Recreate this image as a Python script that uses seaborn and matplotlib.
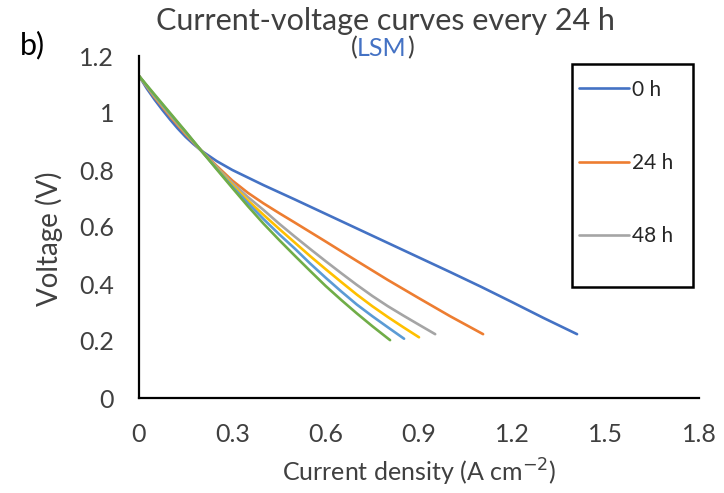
"""
Current-voltage curves every 24 h (LSM) - Excel style line chart
"""

import numpy as np
import pandas as pd
import matplotlib
matplotlib.use('Agg')
import matplotlib.pyplot as plt
from matplotlib.patches import Rectangle
from matplotlib.lines import Line2D
import seaborn as sns

# Data (current density in A cm-2, voltage in V)
hours = ['0 h', '24 h', '48 h', '72 h', '96 h', '120 h']

i_0h = [0, 0.025, 0.05, 0.075, 0.1, 0.125, 0.15, 0.175, 0.2, 0.25, 0.3, 0.4, 0.5,
        0.6, 0.7, 0.8, 0.9, 1.0, 1.1, 1.2, 1.3, 1.408]
v_0h = [1.13, 1.086, 1.047, 1.011, 0.977, 0.945, 0.916, 0.891, 0.868, 0.831, 0.80, 0.747, 0.697,
        0.646, 0.595, 0.544, 0.493, 0.442, 0.39, 0.336, 0.281, 0.224]

i_24h = [0, 0.05, 0.1, 0.15, 0.2, 0.25, 0.3, 0.35, 0.4, 0.45, 0.5, 0.6, 0.7, 0.8, 0.9, 1.0, 1.106]
v_24h = [1.13, 1.055, 0.988, 0.925, 0.868, 0.814, 0.763, 0.72, 0.683, 0.649, 0.616, 0.549,
         0.481, 0.414, 0.35, 0.287, 0.224]

i_48h = [0, 0.05, 0.1, 0.15, 0.2, 0.25, 0.3, 0.35, 0.4, 0.45, 0.5, 0.55, 0.6, 0.65, 0.7,
         0.75, 0.8, 0.85, 0.9, 0.952]
v_48h = [1.13, 1.058, 0.992, 0.929, 0.868, 0.81, 0.755, 0.705, 0.66, 0.612, 0.567, 0.523,
         0.48, 0.438, 0.397, 0.358, 0.322, 0.289, 0.257, 0.224]

i_72h = [0, 0.05, 0.1, 0.15, 0.2, 0.25, 0.3, 0.35, 0.4, 0.45, 0.5, 0.55, 0.6, 0.65, 0.7,
         0.75, 0.8, 0.85, 0.9]
v_72h = [1.13, 1.06, 0.995, 0.931, 0.868, 0.806, 0.748, 0.693, 0.643, 0.594, 0.546, 0.498,
         0.452, 0.407, 0.363, 0.322, 0.284, 0.248, 0.213]

i_96h = [0, 0.05, 0.1, 0.15, 0.2, 0.25, 0.3, 0.35, 0.4, 0.45, 0.5, 0.55, 0.6, 0.65, 0.7,
         0.75, 0.8, 0.852]
v_96h = [1.13, 1.062, 0.997, 0.933, 0.868, 0.804, 0.742, 0.684, 0.628, 0.575, 0.525, 0.472,
         0.422, 0.374, 0.328, 0.287, 0.248, 0.208]

i_120h = [0, 0.05, 0.1, 0.15, 0.2, 0.25, 0.3, 0.35, 0.4, 0.45, 0.5, 0.55, 0.6, 0.65, 0.7,
          0.75, 0.807]
v_120h = [1.13, 1.065, 1.0, 0.935, 0.868, 0.802, 0.737, 0.673, 0.612, 0.555, 0.50, 0.446,
          0.393, 0.344, 0.297, 0.252, 0.203]

colors = ['#4472C4', '#ED7D31', '#A5A5A5', '#FFC000', '#5B9BD5', '#70AD47']

x_ticks = [0, 0.3, 0.6, 0.9, 1.2, 1.5, 1.8]
y_ticks = [0, 0.2, 0.4, 0.6, 0.8, 1.0, 1.2]
y_tick_labels = ['0', '0.2', '0.4', '0.6', '0.8', '1', '1.2']

# long table for seaborn
curves = [(i_0h, v_0h), (i_24h, v_24h), (i_48h, v_48h),
          (i_72h, v_72h), (i_96h, v_96h), (i_120h, v_120h)]
frames = []
for label, (ii, vv) in zip(hours, curves):
    frames.append(pd.DataFrame({'current': ii, 'voltage': vv, 'time': label}))
df = pd.concat(frames, ignore_index=True)

sns.set_style('white')
plt.rcParams['font.family'] = ['Lato', 'DejaVu Sans']
text_gray = '#404040'

fig = plt.figure(figsize=(7.24, 4.93), dpi=100)
ax = fig.add_axes([139 / 724, 95 / 493, 560 / 724, 342 / 493])

sns.lineplot(data=df, x='current', y='voltage', hue='time', hue_order=hours,
             palette=colors, linewidth=1.9, sort=False, estimator=None,
             legend=False, ax=ax)

ax.set_xlim(0, 1.8)
ax.set_ylim(0, 1.2)
ax.set_xticks(x_ticks)
ax.set_xticklabels([f'{t:g}' for t in x_ticks])
ax.set_yticks(y_ticks)
ax.set_yticklabels(y_tick_labels)
ax.tick_params(direction='in', length=8, width=1.5, color='black',
               labelsize=18, labelcolor=text_gray)
ax.tick_params(axis='x', pad=18)
ax.tick_params(axis='y', pad=18)
for side in ['top', 'right']:
    ax.spines[side].set_visible(False)
for side in ['left', 'bottom']:
    ax.spines[side].set_color('black')
    ax.spines[side].set_linewidth(1.6)

ax.set_xlabel('Current density (A cm$^{-2}$)', fontsize=18, color=text_gray)
ax.xaxis.set_label_coords(0.5, -0.172)
ax.set_ylabel('Voltage (V)', fontsize=20, color=text_gray)
ax.yaxis.set_label_coords(-0.135, 0.465)

# legend (box is clipped in the original, only three entries visible)
handles = [Line2D([0], [0], color=c, lw=1.9) for c in colors[:3]]
ax.legend(handles, hours[:3], loc='upper left', bbox_to_anchor=(0.77, 0.955),
          frameon=False, fontsize=15, labelspacing=2.55, handlelength=2.4,
          handletextpad=0.15, borderaxespad=0)
ax.add_patch(Rectangle((0.773, 0.325), 0.216, 0.652, transform=ax.transAxes,
                       fill=False, edgecolor='black', linewidth=1.8, clip_on=False))

# title in two lines, LSM in blue
fig.text(385 / 724, 1 - 21 / 493, 'Current-voltage curves every 24 h',
         ha='center', va='center', fontsize=22, color=text_gray)
lsm = fig.text(382 / 724, 1 - 48 / 493, 'LSM', ha='center', va='center',
               fontsize=18, color='#4472C4')
fig.canvas.draw()
bb = lsm.get_window_extent().transformed(fig.transFigure.inverted())
fig.text(bb.x0, 1 - 48 / 493, '(', ha='right', va='center', fontsize=18, color=text_gray)
fig.text(bb.x1, 1 - 48 / 493, ')', ha='left', va='center', fontsize=18, color=text_gray)

fig.text(32 / 724, 1 - 45 / 493, 'b)', ha='center', va='center', fontsize=22, color='black')

fig.savefig('out.png', dpi=100)
